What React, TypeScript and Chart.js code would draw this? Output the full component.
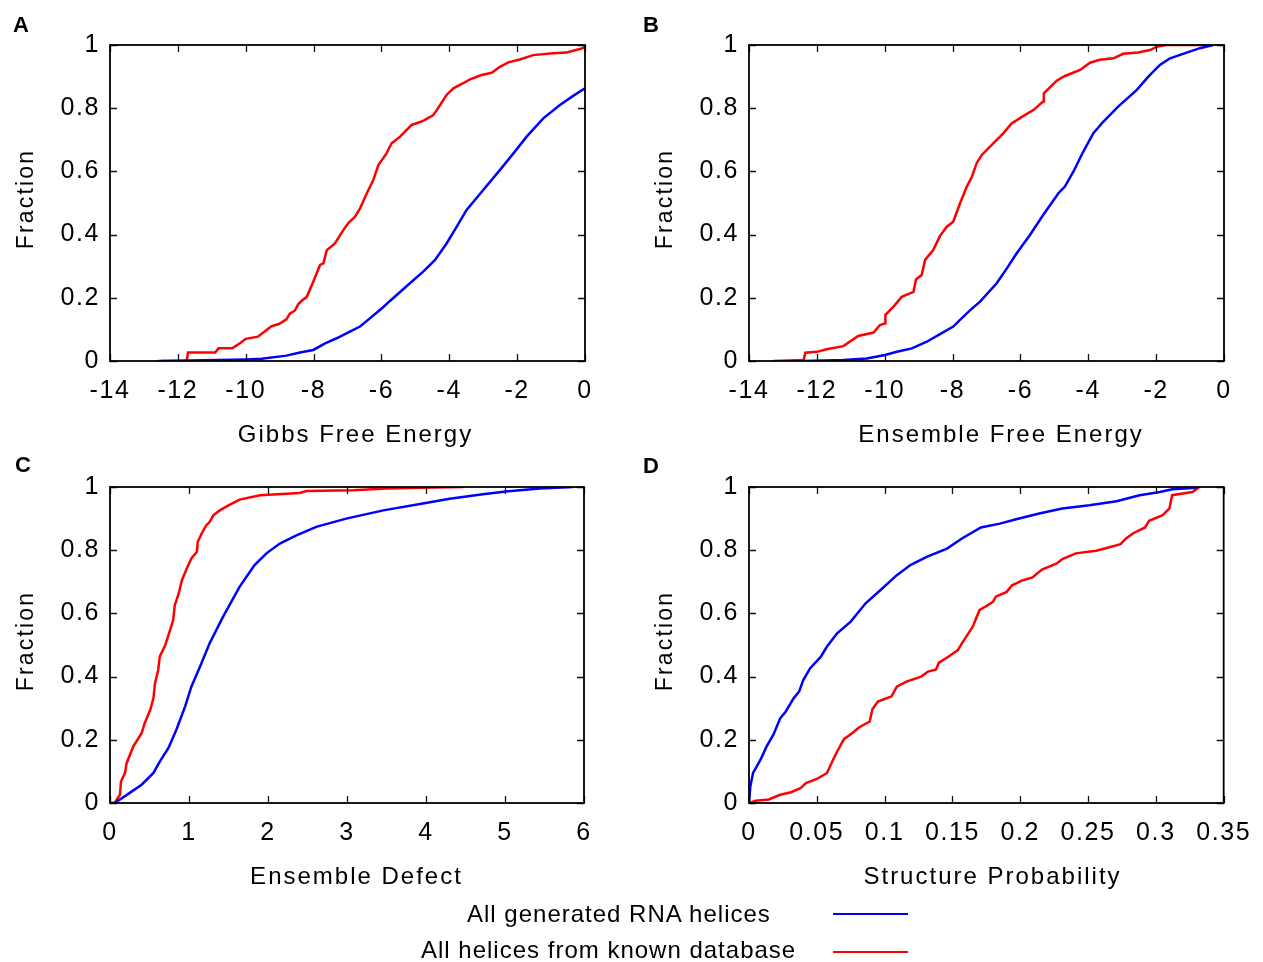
import { useEffect, useRef } from 'react';
import { Chart, registerables } from 'chart.js';

Chart.register(...registerables);

const FONT = '"Liberation Sans", Arial, Helvetica, sans-serif';
const W = 1263;
const H = 962;

// ---- tick values & labels ----
const fractionTicks = [0, 0.2, 0.4, 0.6, 0.8, 1];
const fractionLabels = ['0', '0.2', '0.4', '0.6', '0.8', '1'];
const energyTicks = [-14, -12, -10, -8, -6, -4, -2, 0];
const energyLabels = ['-14', '-12', '-10', '-8', '-6', '-4', '-2', '0'];
const defectTicks = [0, 1, 2, 3, 4, 5, 6];
const defectLabels = ['0', '1', '2', '3', '4', '5', '6'];
const probTicks = [0, 0.05, 0.1, 0.15, 0.2, 0.25, 0.3, 0.35];
const probLabels = ['0', '0.05', '0.1', '0.15', '0.2', '0.25', '0.3', '0.35'];

const seriesNames = ['All generated RNA helices', 'All helices from known database'];

// ---- Panel A: Gibbs Free Energy (x, fraction) ----
const gibbsGenerated: [number, number][] = [
  [-12.5, 0], [-9.99, 0.005], [-9.53, 0.007], [-8.8, 0.017], [-8.4, 0.027], [-8.01, 0.035],
  [-7.66, 0.056], [-7.32, 0.072], [-6.93, 0.093], [-6.63, 0.109], [-6.34, 0.135], [-5.95, 0.17],
  [-5.75, 0.19], [-5.55, 0.209], [-5.16, 0.246], [-4.77, 0.283], [-4.42, 0.32], [-4.08, 0.372],
  [-3.78, 0.425], [-3.49, 0.478], [-3.0, 0.541], [-2.51, 0.604], [-2.11, 0.657], [-1.72, 0.71],
  [-1.23, 0.768], [-0.74, 0.81], [-0.35, 0.839], [0, 0.863],
];
const gibbsKnown: [number, number][] = [
  [-12.6, 0], [-11.74, 0], [-11.7, 0.027], [-10.9, 0.027], [-10.8, 0.04], [-10.4, 0.04],
  [-10.17, 0.056], [-10.0, 0.07], [-9.64, 0.077], [-9.24, 0.11], [-9.02, 0.117], [-8.8, 0.132],
  [-8.7, 0.15], [-8.55, 0.16], [-8.45, 0.18], [-8.32, 0.193], [-8.2, 0.203], [-8.01, 0.251],
  [-7.81, 0.304], [-7.71, 0.309], [-7.61, 0.351], [-7.37, 0.372], [-7.12, 0.415], [-6.98, 0.436],
  [-6.78, 0.457], [-6.63, 0.483], [-6.43, 0.531], [-6.24, 0.573], [-6.09, 0.62], [-5.85, 0.657],
  [-5.7, 0.689], [-5.45, 0.71], [-5.11, 0.747], [-4.77, 0.76], [-4.47, 0.778], [-4.27, 0.81],
  [-4.08, 0.842], [-3.88, 0.863], [-3.59, 0.879], [-3.39, 0.891], [-3.05, 0.905], [-2.75, 0.912],
  [-2.51, 0.931], [-2.26, 0.945], [-1.92, 0.954], [-1.53, 0.968], [-0.94, 0.974], [-0.55, 0.976],
  [-0.35, 0.982], [-0.06, 0.99], [0, 1.0],
];

// ---- Panel B: Ensemble Free Energy ----
const ensembleGenerated: [number, number][] = [
  [-12.39, 0], [-11.22, 0.003], [-10.53, 0.008], [-9.99, 0.019], [-9.64, 0.029], [-9.2, 0.04],
  [-8.76, 0.061], [-8.37, 0.085], [-7.98, 0.109], [-7.78, 0.13], [-7.48, 0.161], [-7.19, 0.188],
  [-6.7, 0.246], [-6.4, 0.293], [-6.11, 0.341], [-5.72, 0.399], [-5.33, 0.462], [-4.88, 0.531],
  [-4.69, 0.552], [-4.44, 0.599], [-4.15, 0.662], [-3.85, 0.721], [-3.56, 0.757], [-3.12, 0.805],
  [-2.57, 0.858], [-2.23, 0.9], [-1.89, 0.937], [-1.59, 0.958], [-1.1, 0.976], [-0.71, 0.99],
  [-0.32, 1.0],
];
const ensembleKnown: [number, number][] = [
  [-13.28, 0], [-12.39, 0.003], [-12.34, 0.026], [-12.0, 0.029], [-11.71, 0.037], [-11.22, 0.047],
  [-10.78, 0.079], [-10.33, 0.09], [-10.14, 0.114], [-9.99, 0.119], [-9.98, 0.146], [-9.74, 0.172],
  [-9.5, 0.203], [-9.15, 0.219], [-9.08, 0.258], [-8.91, 0.272], [-8.81, 0.32], [-8.57, 0.351],
  [-8.37, 0.396], [-8.17, 0.425], [-7.98, 0.441], [-7.78, 0.499], [-7.58, 0.552], [-7.43, 0.583],
  [-7.29, 0.626], [-7.14, 0.652], [-6.8, 0.689], [-6.5, 0.721], [-6.26, 0.752], [-5.92, 0.775],
  [-5.62, 0.794], [-5.33, 0.821], [-5.31, 0.847], [-4.93, 0.887], [-4.69, 0.902], [-4.24, 0.921],
  [-3.95, 0.944], [-3.66, 0.953], [-3.26, 0.958], [-2.97, 0.972], [-2.53, 0.976], [-2.18, 0.984],
  [-1.99, 0.994], [-1.69, 1.0], [-0.35, 1.0],
];

// ---- Panel C: Ensemble Defect ----
const defectGenerated: [number, number][] = [
  [0.06, 0], [0.25, 0.032], [0.4, 0.058], [0.55, 0.095], [0.63, 0.131], [0.74, 0.174],
  [0.84, 0.232], [0.95, 0.305], [1.03, 0.368], [1.14, 0.432], [1.26, 0.505], [1.43, 0.589],
  [1.64, 0.684], [1.83, 0.753], [1.98, 0.79], [2.15, 0.821], [2.36, 0.847], [2.61, 0.874],
  [2.99, 0.9], [3.46, 0.926], [3.96, 0.948], [4.3, 0.963], [4.72, 0.977], [5.01, 0.986],
  [5.44, 0.995], [5.86, 1.0],
];
const defectKnown: [number, number][] = [
  [0, 0], [0.063, 0.002], [0.126, 0.026], [0.139, 0.068], [0.19, 0.095], [0.21, 0.126],
  [0.295, 0.179], [0.4, 0.221], [0.44, 0.253], [0.51, 0.295], [0.55, 0.332], [0.57, 0.379],
  [0.61, 0.421], [0.63, 0.463], [0.7, 0.5], [0.76, 0.547], [0.8, 0.579], [0.82, 0.626],
  [0.87, 0.663], [0.91, 0.705], [0.98, 0.747], [1.03, 0.774], [1.1, 0.795], [1.11, 0.826],
  [1.16, 0.853], [1.22, 0.879], [1.26, 0.889], [1.31, 0.911], [1.39, 0.926], [1.5, 0.942],
  [1.64, 0.96], [1.9, 0.974], [2.4, 0.981], [2.49, 0.987], [3.08, 0.99], [3.5, 0.995],
  [3.92, 0.998], [4.47, 1.0],
];

// ---- Panel D: Structure Probability ----
const probGenerated: [number, number][] = [
  [0, 0], [0.001, 0.053], [0.003, 0.095], [0.0085, 0.137], [0.013, 0.179], [0.018, 0.216],
  [0.023, 0.268], [0.027, 0.289], [0.033, 0.332], [0.037, 0.353], [0.04, 0.389], [0.045, 0.426],
  [0.053, 0.463], [0.0575, 0.495], [0.065, 0.537], [0.075, 0.574], [0.086, 0.632], [0.097, 0.674],
  [0.109, 0.721], [0.119, 0.753], [0.131, 0.779], [0.146, 0.805], [0.157, 0.837], [0.171, 0.872],
  [0.185, 0.884], [0.197, 0.898], [0.214, 0.916], [0.231, 0.932], [0.251, 0.942], [0.271, 0.955],
  [0.288, 0.974], [0.303, 0.984], [0.312, 0.993], [0.33, 0.998],
];
const probKnown: [number, number][] = [
  [0, 0], [0.0048, 0.007], [0.0146, 0.011], [0.023, 0.026], [0.031, 0.034], [0.038, 0.047],
  [0.042, 0.063], [0.05, 0.076], [0.0575, 0.095], [0.062, 0.137], [0.065, 0.163], [0.07, 0.202],
  [0.076, 0.221], [0.081, 0.239], [0.089, 0.258], [0.091, 0.297], [0.095, 0.321], [0.105, 0.337],
  [0.109, 0.368], [0.116, 0.384], [0.127, 0.4], [0.132, 0.416], [0.138, 0.423], [0.14, 0.444],
  [0.147, 0.463], [0.154, 0.484], [0.157, 0.505], [0.165, 0.558], [0.17, 0.611], [0.175, 0.623],
  [0.18, 0.637], [0.182, 0.653], [0.19, 0.668], [0.194, 0.689], [0.202, 0.705], [0.209, 0.714],
  [0.216, 0.739], [0.227, 0.758], [0.231, 0.772], [0.241, 0.79], [0.256, 0.798], [0.263, 0.806],
  [0.274, 0.819], [0.278, 0.837], [0.283, 0.853], [0.292, 0.872], [0.295, 0.893], [0.305, 0.911],
  [0.31, 0.932], [0.312, 0.974], [0.327, 0.984], [0.332, 1.0],
];

type Panel = {
  letter: string;
  letterPos: [number, number];
  area: { left: number; top: number; right: number; bottom: number };
  xMin: number;
  xMax: number;
  xTicks: number[];
  xLabels: string[];
  xTitle: string;
  xTitlePos: [number, number];
  yTitlePos: [number, number];
  generated: [number, number][];
  known: [number, number][];
};

const panels: Panel[] = [
  {
    letter: 'A', letterPos: [13, 31.5],
    area: { left: 110, top: 45, right: 585, bottom: 361 },
    xMin: -14, xMax: 0, xTicks: energyTicks, xLabels: energyLabels,
    xTitle: 'Gibbs Free Energy', xTitlePos: [355.5, 442], yTitlePos: [33, 199],
    generated: gibbsGenerated, known: gibbsKnown,
  },
  {
    letter: 'B', letterPos: [643, 31.5],
    area: { left: 749, top: 45, right: 1224, bottom: 361 },
    xMin: -14, xMax: 0, xTicks: energyTicks, xLabels: energyLabels,
    xTitle: 'Ensemble Free Energy', xTitlePos: [1001, 442], yTitlePos: [672, 199],
    generated: ensembleGenerated, known: ensembleKnown,
  },
  {
    letter: 'C', letterPos: [15, 471.5],
    area: { left: 110, top: 487, right: 584, bottom: 803 },
    xMin: 0, xMax: 6, xTicks: defectTicks, xLabels: defectLabels,
    xTitle: 'Ensemble Defect', xTitlePos: [356.5, 884], yTitlePos: [33, 641],
    generated: defectGenerated, known: defectKnown,
  },
  {
    letter: 'D', letterPos: [643, 473],
    area: { left: 749, top: 487, right: 1224, bottom: 803 },
    xMin: 0, xMax: 0.35, xTicks: probTicks, xLabels: probLabels,
    xTitle: 'Structure Probability', xTitlePos: [992.5, 884], yTitlePos: [672, 641],
    generated: probGenerated, known: probKnown,
  },
];

const decor = {
  id: 'decor',
  beforeDraw(chart: any) {
    chart.ctx.letterSpacing = '1.6px';
  },
  afterDatasetsDraw(chart: any, _args: any, opts: any) {
    const ctx = chart.ctx as CanvasRenderingContext2D;
    const a = chart.chartArea;
    const xs = chart.scales.x;
    const ys = chart.scales.y;
    ctx.save();
    (ctx as any).letterSpacing = '0px';
    ctx.strokeStyle = '#111';
    ctx.lineWidth = 1.3;
    const tl = 7;
    ctx.beginPath();
    for (const t of xs.ticks) {
      const px = Math.round(xs.getPixelForValue(t.value)) + 0.5;
      ctx.moveTo(px, a.bottom); ctx.lineTo(px, a.bottom - tl);
      ctx.moveTo(px, a.top); ctx.lineTo(px, a.top + tl);
    }
    for (const t of ys.ticks) {
      const py = Math.round(ys.getPixelForValue(t.value)) + 0.5;
      ctx.moveTo(a.left, py); ctx.lineTo(a.left + tl, py);
      ctx.moveTo(a.right, py); ctx.lineTo(a.right - tl, py);
    }
    ctx.stroke();
    ctx.lineWidth = 1.8;
    ctx.strokeStyle = '#000';
    ctx.strokeRect(a.left, a.top, a.right - a.left, a.bottom - a.top);

    ctx.fillStyle = '#000';
    // panel letter
    ctx.font = `bold 22px ${FONT}`;
    ctx.textAlign = 'left';
    ctx.textBaseline = 'alphabetic';
    ctx.fillText(opts.letter, opts.letterPos[0], opts.letterPos[1]);
    // x title
    (ctx as any).letterSpacing = '2px';
    ctx.font = `24px ${FONT}`;
    ctx.textAlign = 'center';
    ctx.fillText(opts.xTitle, opts.xTitlePos[0], opts.xTitlePos[1]);
    // y title
    (ctx as any).letterSpacing = '2.2px';
    ctx.font = `23px ${FONT}`;
    ctx.translate(opts.yTitlePos[0], opts.yTitlePos[1]);
    ctx.rotate(-Math.PI / 2);
    ctx.fillText('Fraction', 0, 0);
    ctx.restore();
  },
};

function PanelChart({ p }: { p: Panel }) {
  const ref = useRef<HTMLCanvasElement | null>(null);
  useEffect(() => {
    if (!ref.current) return;
    const toPts = (arr: [number, number][]) => arr.map(([x, y]) => ({ x, y }));
    const chart = new Chart(ref.current, {
      type: 'line',
      data: {
        datasets: [
          {
            label: seriesNames[0], data: toPts(p.generated), borderColor: '#0000ff',
            borderWidth: 2.5, pointRadius: 0, tension: 0, fill: false,
          },
          {
            label: seriesNames[1], data: toPts(p.known), borderColor: '#ff0000',
            borderWidth: 2.5, pointRadius: 0, tension: 0, fill: false,
          },
        ],
      },
      options: {
        responsive: false,
        animation: false,
        devicePixelRatio: 1,
        events: [],
        layout: { padding: { left: 0, top: p.area.top, right: W - p.area.right, bottom: 0 } },
        plugins: {
          legend: { display: false },
          tooltip: { enabled: false },
          decor: {
            letter: p.letter, letterPos: p.letterPos, xTitle: p.xTitle,
            xTitlePos: p.xTitlePos, yTitlePos: p.yTitlePos,
          },
        } as any,
        scales: {
          x: {
            type: 'linear',
            min: p.xMin,
            max: p.xMax,
            grid: { display: false, drawTicks: false },
            border: { display: false },
            afterBuildTicks: (s: any) => { s.ticks = p.xTicks.map((v) => ({ value: v })); },
            afterFit: (s: any) => { s.height = H - p.area.bottom; },
            ticks: {
              font: { size: 25, family: FONT },
              color: '#000',
              padding: 15,
              maxRotation: 0,
              autoSkip: false,
              callback: (_v: any, i: number) => p.xLabels[i],
            },
          },
          y: {
            type: 'linear',
            min: 0,
            max: 1,
            grid: { display: false, drawTicks: false },
            border: { display: false },
            afterBuildTicks: (s: any) => { s.ticks = fractionTicks.map((v) => ({ value: v })); },
            afterFit: (s: any) => { s.width = p.area.left; },
            ticks: {
              font: { size: 25, family: FONT },
              color: '#000',
              padding: 10,
              autoSkip: false,
              callback: (_v: any, i: number) => fractionLabels[i],
            },
          },
        },
      } as any,
      plugins: [decor as any],
    });
    return () => chart.destroy();
  }, [p]);
  return (
    <canvas
      ref={ref}
      width={W}
      height={H}
      style={{ position: 'absolute', left: 0, top: 0, width: W, height: H }}
    />
  );
}

export default function App() {
  const textStyle: any = {
    position: 'absolute',
    font: `24px ${FONT}`,
    letterSpacing: '1px',
    lineHeight: '24px',
    whiteSpace: 'nowrap',
    color: '#000',
  };
  return (
    <div style={{ position: 'absolute', left: 0, top: 0, width: W, height: H, background: '#fff', overflow: 'hidden' }}>
      {panels.map((p) => (
        <PanelChart key={p.letter} p={p} />
      ))}
      <div style={{ ...textStyle, left: 467, top: 901.5 }}>{seriesNames[0]}</div>
      <div style={{ ...textStyle, left: 421, top: 937.5 }}>{seriesNames[1]}</div>
      <div style={{ position: 'absolute', left: 833, top: 912.5, width: 75, height: 2.5, background: '#0000ff' }} />
      <div style={{ position: 'absolute', left: 833, top: 950.5, width: 75, height: 2.5, background: '#ff0000' }} />
    </div>
  );
}
